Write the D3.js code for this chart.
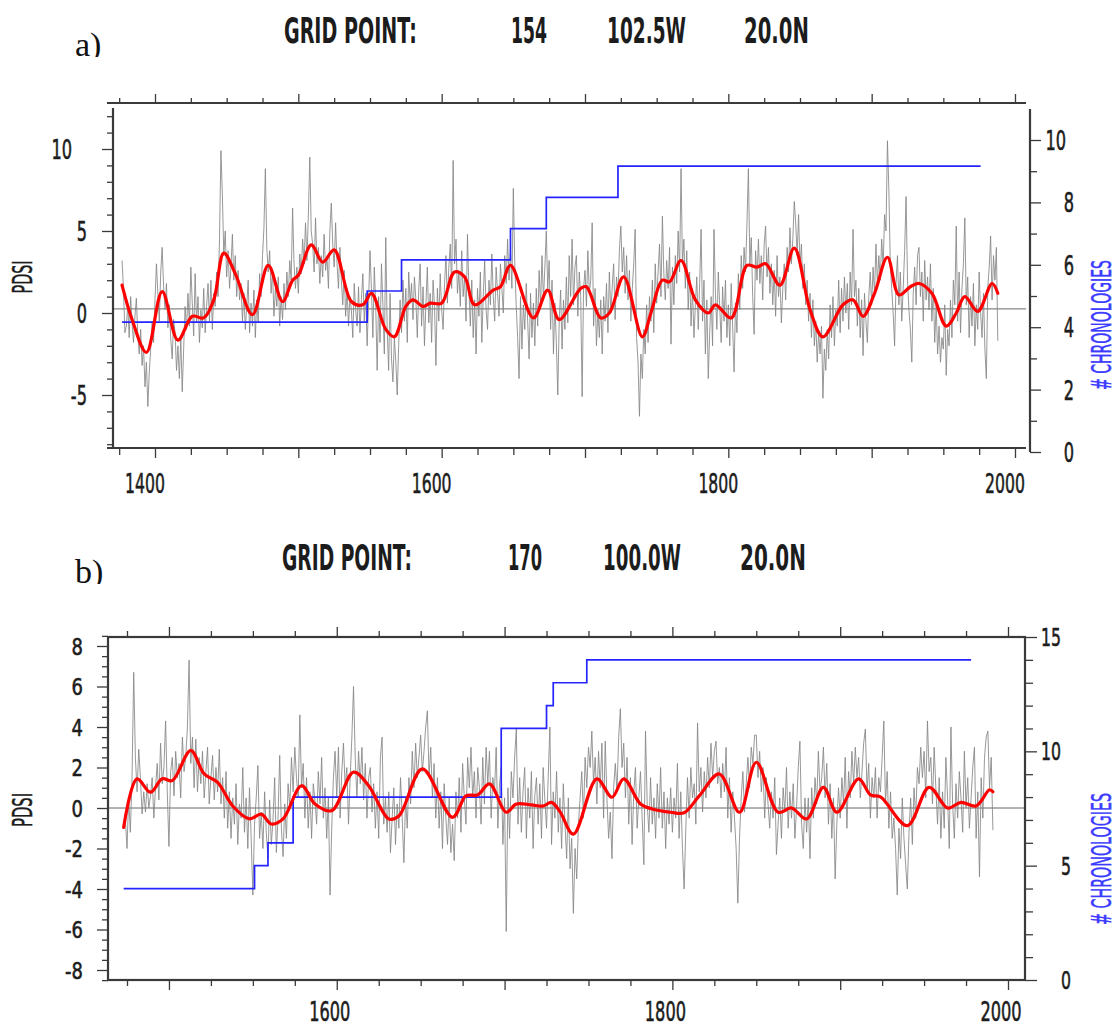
<!DOCTYPE html>
<html>
<head>
<meta charset="utf-8">
<script src="https://cdn.jsdelivr.net/npm/d3@7.9.0/dist/d3.min.js"></script>
<style>
  body { margin: 0; background: #fff; }
  svg { display: block; font-family: "DejaVu Sans", sans-serif; }
</style>
</head>
<body>
<svg id="chart" width="1118" height="1028"></svg>
<script>
// ---- panel a : grid point 154, 102.5W 20.0N ----
const firstYearA = 1377;
const pdsiA = [
  3.2, 1.5, -1.2,
  -0.8, 0.5, -1.5, 1.0, -0.6, -1.8, -0.2, 0.9, -1.4, -2.5,
  -1.0, -3.2, -2.0, -4.5, -3.0, -5.7, -3.6, -2.2, -0.5, -1.8,
  0.8, 3.0, 1.2, -0.5, 2.5, 4.0, 1.6, 0.2, 1.8, -0.9,
  0.5, -1.6, -2.8, -0.4, -1.2, -3.5, -2.0, -4.0, -1.5, -4.8,
  -2.2, 0.4, -1.0, 1.2, -0.8, 2.8, 0.6, -1.4, 2.4, -0.6,
  1.0, -1.8, 0.2, -0.9, 1.5, -1.2, 0.4, 1.8, -0.5, 2.0,
  -1.0, 1.2, 0.4, 2.5, 1.0, 4.5, 9.9, 7.2, 3.5, 5.0,
  2.2, 3.8, 1.5, 2.8, 4.8, 2.0, 3.5, 1.0, 2.6, 0.8,
  1.8, -0.5, 1.2, -1.0, 0.4, 2.0, -1.2, 0.6, -0.8, 1.4,
  -1.5, 0.8, -0.6, 2.4, 1.0, 3.5, 5.2, 8.8, 4.0, 2.5,
  3.8, 1.2, 2.6, -0.2, 1.5, 0.4, 2.2, -0.8, 1.0, -0.4,
  1.8, 0.2, 2.5, 1.0, 3.2, 2.0, 6.4, 3.0, 1.5, 2.8,
  1.2, 3.6, 2.4, 4.5, 3.0, 5.5, 3.2, 6.0, 9.5, 5.0,
  4.2, 2.5, 5.8, 3.0, 4.0, 1.8, 3.5, 2.2, 4.8, 2.6,
  3.4, 1.5, 5.0, 6.7, 4.2, 2.8, 5.5, 3.0, 1.5, 4.0,
  2.0, 0.5, 2.6, -0.2, 1.5, -0.8, 1.0, 0.2, -1.5, 1.8,
  0.2, -0.8, 1.6, -1.2, 0.8, 2.4, -0.5, 1.2, -2.0, 0.6,
  3.8, 1.5, -1.5, 2.8, 0.4, -3.5, 1.0, -1.8, 3.0, 0.5,
  -2.5, 4.6, -1.0, -3.5, 1.2, -2.8, -4.2, -1.5, -3.0, -5.0,
  -2.0, 0.8, -1.2, 2.0, -0.5, 1.5, -1.8, 2.5, 0.6, 1.8,
  -0.4, 2.2, 0.8, -1.5, 1.4, 3.0, -0.8, 1.6, -2.0, 0.5,
  2.8, -0.6, 1.2, -1.8, 2.0, 0.4, -3.2, 1.5, -0.5, 2.4,
  0.2, -1.0, 1.8, 3.5, 0.6, 2.8, 4.2, 1.5, 9.3, 3.0,
  4.5, 1.2, 2.5, 0.4, 3.8, 1.0, 2.2, -0.5, 4.8, 1.5,
  -0.8, 2.0, -1.5, 0.8, -2.5, 1.5, -0.2, 2.5, -1.8, 1.0,
  3.2, 0.2, -1.0, 2.0, 0.5, 3.6, 1.0, -0.5, 2.8, 1.2,
  -0.2, 3.0, 1.5, 0.0, 3.5, 1.8, 4.5, 2.0, 3.8, 1.5,
  7.6, 3.0, 0.5, -1.5, -4.0, 1.0, -2.2, 0.5, -1.0, 1.8,
  -0.5, -2.8, 1.2, -1.5, 0.6, -2.0, 1.5, -0.8, 2.6, 0.4,
  3.5, 0.8, 2.8, 5.0, 1.5, 3.2, -1.0, 2.0, -2.5, 0.6,
  -1.8, -5.0, -0.5, 1.4, -2.2, 0.8, -1.0, 2.2, -0.6, 3.5,
  1.0, 4.5, 0.5, 2.8, 3.5, -0.2, 2.5, 1.0, -5.1, 1.5,
  2.6, 0.4, 3.8, 1.2, 2.0, 5.5, -0.8, 1.5, -2.0, 0.2,
  -1.5, 0.8, -2.5, 1.0, -0.5, 1.8, -1.2, 2.5, 0.0, 1.6,
  3.0, -0.4, 2.2, 1.0, 3.8, 5.3, 2.5, 4.0, 1.2, 3.5,
  0.8, 2.6, -0.5, 1.5, 3.0, 5.1, -1.5, -3.0, -6.3, -2.5,
  -4.0, -1.0, -2.5, 0.5, -1.8, 1.0, -0.5, 2.0, -1.2, 3.0,
  0.6, 2.5, 4.2, 1.0, 5.9, 2.4, 0.8, 3.2, 1.5, 4.0,
  -1.9, 2.8, 0.5, 3.5, 1.8, 5.0, 2.5, 8.8, 3.0, 4.5,
  1.5, 3.8, 0.2, 2.5, -0.8, 1.5, -1.5, 0.5, 2.2, -1.0,
  1.8, 5.1, -0.5, 2.0, -2.5, 0.8, -4.0, -1.2, 1.0, -2.0,
  5.1, 1.2, -1.0, 2.5, 0.4, -1.8, 1.6, -0.5, 2.0, -1.5,
  0.5, -2.0, 1.8, -0.8, -3.6, 0.6, -1.2, 2.4, 0.2, 3.5,
  1.5, 4.0, 2.5, 5.5, 8.8, 3.0, 4.6, 1.0, -1.3, 3.8,
  2.0, 4.5, 1.8, 3.5, 0.8, 4.2, 5.3, 2.2, 4.0, 1.2,
  3.0, 0.5, 2.6, -0.2, 3.5, 1.0, 2.2, -0.6, 1.5, 3.0,
  0.8, 4.0, 2.5, 5.2, 3.0, 4.5, 6.8, 5.5, 3.5, 6.0,
  2.8, 4.2, 1.5, 3.0, 0.5, 2.0, -0.5, 1.2, -1.5, 0.8,
  -2.0, -0.5, -3.0, -1.2, -2.5, -0.8, -5.2, -2.2, -3.5, -1.0,
  -2.8, 0.5, -1.5, 1.0, -2.0, 0.2, -0.8, 2.0, -1.2, 1.5,
  -0.5, 2.2, 0.0, 1.8, -1.0, 2.5, 0.5, 5.1, 1.0, 2.0,
  -0.8, 1.5, -1.5, 0.8, -2.6, 1.2, -0.5, -1.8, 1.0, 2.5,
  0.5, 2.8, 1.2, 4.2, 1.8, 3.5, 2.0, 4.5, 2.8, 6.0,
  5.0, 10.5, 7.5, 3.0, 1.5, 0.0, -2.0, 1.8, 3.5, 0.5,
  2.5, -0.5, 1.5, 3.8, 7.1, 2.0, 0.2, -1.0, -3.0, 1.2,
  2.8, 0.5, 3.5, 4.0, 1.0, 2.5, -0.5, 3.2, 0.8, 2.2,
  0.2, 3.0, -0.5, 1.5, -1.8, 0.5, -2.5, -0.8, -3.0, -1.5,
  -2.2, 0.5, -3.8, -1.0, -2.0, 0.8, -1.5, 2.0, 0.5, 5.3,
  -0.5, 2.5, -1.2, 1.5, 3.0, 5.8, 0.5, 2.2, -1.5, 1.0,
  -0.8, 1.8, -2.0, 0.5, -1.0, 2.5, 0.0, -1.5, 1.2, -2.2,
  -4.0, 1.5, 2.8, 4.7, 0.8, 3.5, 2.0, 4.0, -1.7
];
const smoothYearsA = [1377, 1384, 1394, 1405, 1416, 1426, 1434, 1441, 1448, 1456, 1468, 1479, 1489, 1496,
  1500, 1509, 1517, 1525, 1537, 1545, 1551, 1561, 1567, 1575, 1580, 1587, 1592, 1600, 1609, 1616, 1623,
  1636, 1641, 1648, 1664, 1674, 1682, 1697, 1701, 1711, 1717, 1727, 1740, 1746, 1754, 1759, 1767, 1777,
  1786, 1791, 1802, 1813, 1820, 1826, 1836, 1846, 1857, 1866, 1880, 1887, 1894, 1902, 1911, 1919, 1927,
  1933, 1942, 1952, 1959, 1965, 1974, 1984, 1988];
const smoothA = [1.7, -0.4, -2.4, 1.3, -1.65, -0.2, -0.3, 0.8, 3.65, 2.4, -0.1, 2.9, 0.7, 2.0,
  2.3, 4.15, 3.1, 3.85, 0.7, 0.5, 1.2, -1.0, -1.45, 0.4, 0.8, 0.4, 0.6, 0.6, 2.5, 2.2, 0.5,
  1.4, 1.6, 2.9, -0.3, 1.4, -0.4, 1.5, 1.6, -0.3, 0.0, 2.2, -1.45, 0.0, 2.0, 1.9, 3.2, 0.8,
  0.0, 0.5, -0.3, 2.9, 2.8, 3.0, 1.7, 3.95, 0.2, -1.45, 0.5, 0.8, -0.2, 1.2, 3.4, 1.1, 1.6,
  1.8, 1.2, -0.8, 0.0, 1.0, 0.1, 1.8, 1.2];
const stepYearsA = [1377, 1548, 1572, 1648, 1673, 1723, 1976];
const chronA = [4, 5, 6, 7, 8, 9, 9];

// ---- panel b : grid point 170, 100.0W 20.0N ----
const firstYearB = 1473;
const pdsiB = [
  -1.0, -0.5, -2.0, 0.5, -1.2, 1.5, 6.7,
  2.5, 0.8, 2.9, 1.5, -0.3, 0.8, -0.2, 1.2, 0.0, 0.6,
  1.5, -0.5, 1.0, 2.2, 0.4, 3.2, 1.2, 2.0, 4.3, 0.8,
  -1.9, 1.8, 2.5, 0.6, 2.8, 1.5, 2.2, 0.5, 3.5, 1.8,
  2.5, 4.0, 7.3, 2.2, 3.5, 1.0, 3.4, 0.8, 2.5, 1.2,
  2.8, 0.5, 1.8, 3.0, 0.2, 1.5, 2.6, 0.4, 2.0, 0.8,
  2.9, 0.2, 1.5, -0.5, 1.8, -1.0, 0.8, -1.5, 0.5, -0.8,
  1.2, -1.8, 0.2, -0.5, 2.0, -1.2, 0.5, -2.0, 1.0, -1.5,
  -4.3, -0.8, 0.5, 2.1, -1.5, -0.2, -2.0, 0.8, -1.2, -2.5,
  0.4, -1.8, -0.6, 1.5, -2.2, -0.5, 2.6, -1.0, -2.4, 0.2,
  -1.5, 1.2, 0.0, 2.5, 0.8, 3.0, 1.5, 0.5, 4.6, 1.0,
  2.2, -0.5, 1.5, -1.0, 0.8, -1.5, 1.2, 0.4, -0.8, 1.8,
  0.2, 2.5, -0.5, 1.0, -1.5, 0.5, -4.3, -1.0, 1.5, 2.8,
  0.5, 3.0, -0.5, 1.8, 3.2, 1.0, 2.0, -0.8, 1.5, 3.5,
  6.0, 2.5, 0.5, 2.8, 1.2, 3.0, 0.4, 2.2, -0.5, 1.5,
  2.0, -0.2, 1.2, -1.0, 0.8, -1.5, 2.5, 3.5, -0.8, 0.5,
  -1.2, 0.8, -2.2, -0.5, 1.0, -1.8, 0.2, -1.0, 1.5, -0.5,
  -2.7, 0.5, -1.0, 1.5, 0.2, 2.8, 1.0, 3.2, 1.5, 2.5,
  3.6, 1.8, 2.8, 4.0, 4.8, 1.5, 3.0, 0.5, 2.2, -0.5,
  1.5, -1.0, 0.8, -2.0, 1.2, -0.5, -1.8, 0.5, -2.2, -0.8,
  -2.6, 0.8, -0.5, 1.5, -1.2, 2.2, 0.5, -0.8, 2.5, 1.0,
  3.0, 0.5, 1.8, -0.5, 2.0, 1.0, -0.8, 2.5, 0.2, 3.0,
  1.2, 2.8, -0.5, 1.5, 0.8, 3.0, -1.0, 1.2, 2.0, -1.8,
  0.5, -6.1, 1.0, -1.5, 1.8, 0.5, 2.5, 3.9, -0.8, 1.5,
  -1.2, 0.8, 2.0, -1.5, 1.0, -0.5, 1.8, -2.0, 0.6, 1.5,
  -0.8, 1.2, -1.5, 2.0, 0.4, -1.0, 1.5, 4.0, -1.8, 0.8,
  -0.5, 1.8, -1.2, 0.5, -2.0, 1.2, -0.8, -2.5, 0.5, -3.0,
  -1.5, -5.2, -2.0, -3.5, -0.8, 0.5, 1.8, -0.5, 2.5, 1.0,
  3.0, 2.0, 3.8, 1.2, 2.5, 0.2, 2.8, 1.0, 3.2, -0.5,
  3.3, 0.5, -1.5, -0.2, -2.5, 1.0, 2.2, 0.8, 3.5, 4.9,
  2.0, 3.2, 0.5, 2.5, -0.8, 1.5, -1.8, 0.8, 2.0, -1.0,
  0.5, 1.8, -0.5, -2.8, 3.8, 0.2, -1.2, 1.5, -0.8, 0.5,
  -1.5, 1.2, -0.5, 2.0, -1.0, 0.8, -2.0, 0.5, -0.8, 1.0,
  -1.2, 0.5, -0.5, 2.2, -1.5, 0.8, -2.0, -4.0, -1.0, 1.5,
  -0.5, 2.0, 0.5, 1.2, -0.8, 4.2, 0.8, 2.0, -0.2, 1.8,
  0.5, 2.5, 1.0, 3.2, 1.5, 2.8, 3.3, 1.2, 2.0, 0.5,
  2.2, 0.8, 3.0, -0.5, 1.5, -1.2, 0.8, -0.5, -2.0, -4.7,
  -1.5, 0.5, 1.8, -0.2, 1.2, 2.5, 1.0, 3.0, 2.2, 3.6,
  3.6, 1.5, 2.8, 0.8, 2.0, -0.5, 1.5, 0.2, -1.0, 0.8,
  -0.5, 1.5, -2.3, -0.8, 0.5, -1.5, 1.0, -0.2, 2.0, -1.0,
  0.8, -0.5, 1.2, -1.5, 0.0, 2.0, 3.3, -0.8, -2.0, 0.5,
  -1.2, 0.5, -2.5, 1.0, -0.5, 1.5, 0.2, 2.8, 0.8, 1.5,
  3.0, 0.5, 2.2, -0.8, 1.2, -1.5, 0.5, -3.5, -0.8, 1.0,
  -0.5, 1.5, 0.2, 2.5, -1.0, 1.8, 0.5, 2.8, 1.2, 3.0,
  1.5, 2.5, 0.5, 1.8, 3.2, 3.9, 0.8, 2.2, -0.5, 1.5,
  0.5, 2.0, -0.5, 1.5, 0.8, 2.5, 4.3, 0.2, 1.8, -1.0,
  0.8, -1.5, -0.5, -2.0, -4.3, -1.0, -2.5, 0.5, -1.5, -2.8,
  -4.0, -1.2, 0.5, -1.8, 1.0, -0.5, 2.0, 1.2, 3.0, 1.5,
  2.8, 0.5, 4.3, 1.8, 2.5, 0.2, 3.0, 1.0, -0.8, 1.5,
  -1.5, 0.8, -1.0, 2.5, 0.5, -2.0, 4.0, 0.2, -1.5, 1.2,
  -0.5, 1.8, 0.5, -1.2, 2.8, 0.0, 1.5, -1.0, 0.5, 2.0,
  3.0, -1.5, 0.8, -3.4, 1.5, -0.5, 2.5, 3.5, 3.8, 1.0,
  2.5, -1.1
];
const smoothYearsB = [1473, 1481, 1489, 1496, 1502, 1513, 1521, 1529, 1538, 1548, 1555, 1561, 1568, 1579,
  1587, 1597, 1610, 1619, 1631, 1637, 1651, 1669, 1677, 1684, 1691, 1701, 1707, 1716, 1723, 1728, 1733,
  1741, 1755, 1764, 1771, 1781, 1788, 1799, 1807, 1816, 1828, 1840, 1850, 1863, 1871, 1880, 1890, 1898,
  1911, 1918, 1924, 1940, 1953, 1964, 1972, 1981, 1989, 1991];
const smoothB = [-0.96, 1.44, 0.78, 1.44, 1.35, 2.84, 1.68, 1.27, 0.1, -0.54, -0.3, -0.79, -0.54, 1.1,
  0.2, -0.13, 1.77, 1.1, -0.54, -0.4, 1.93, -0.46, 0.6, 0.65, 1.19, -0.21, 0.2, 0.15, 0.1, 0.28, -0.18,
  -1.29, 1.44, 0.53, 1.44, 0.2, -0.05, -0.21, -0.23, 0.6, 1.68, -0.21, 2.26, -0.21, 0.0, -0.54, 1.02, -0.21,
  1.44, 0.65, 0.55, -0.87, 1.02, 0.0, 0.28, 0.1, 0.9, 0.8];
const stepYearsB = [1473, 1551, 1559, 1574, 1698, 1725, 1729, 1749, 1978];
const chronB = [4, 5, 6, 8, 11, 12, 13, 14, 14];

// axis labels
const yearLabelsA = [1400, 1600, 1800, 2000];
const yearLabelsB = [1600, 1800, 2000];
const pdsiLabelsA = [-5, 0, 5, 10];
const chronLabelsA = [0, 2, 4, 6, 8, 10];
const pdsiLabelsB = [-8, -6, -4, -2, 0, 2, 4, 6, 8];
const chronLabelsB = [0, 5, 10, 15];
const titleA = ['GRID POINT:', '154', '102.5W', '20.0N'];
const titleB = ['GRID POINT:', '170', '100.0W', '20.0N'];

const svg = d3.select('#chart');
const ink = '#1c1c1c';
const axisInk = '#3a3a3a';

function condText(g, x, y, str, size, sx, anchor) {
  return g.append('text')
    .attr('transform', `translate(${x},${y}) scale(${sx},1)`)
    .attr('font-size', size)
    .attr('text-anchor', anchor)
    .attr('fill', ink)
    .attr('stroke', ink).attr('stroke-width', 0.6)
    .text(str);
}

// squeeze a text horizontally until it is `len` px wide
function fitText(g, x, y, str, size, len, rotate, color, bold) {
  const t = g.append('text')
    .attr('font-size', size)
    .attr('font-weight', bold ? 'bold' : 'normal')
    .attr('text-anchor', rotate ? 'middle' : 'start')
    .attr('fill', color || ink)
    .text(str);
  if (!bold) t.attr('stroke', color || ink).attr('stroke-width', 0.5);
  const w = t.node().getComputedTextLength();
  const k = len / w;
  t.attr('transform', rotate
    ? `translate(${x},${y}) rotate(-90) scale(${k},1)`
    : `translate(${x},${y}) scale(${k},1)`);
  return t;
}

function panelTag(g, x, y, str) {
  const id = 'clip' + str[0];
  svg.append('defs').append('clipPath').attr('id', id)
    .append('rect').attr('x', x - 5).attr('y', y - 40).attr('width', 50).attr('height', 41);
  g.append('text').attr('x', x).attr('y', y).attr('clip-path', `url(#${id})`)
    .attr('font-family', '"Liberation Serif", "Times New Roman", serif')
    .attr('font-size', 34).attr('fill', '#111').text(str);
}

function tidy(g, longTest, longSize) {
  g.select('.domain').remove();
  g.selectAll('.tick text').remove();
  g.selectAll('.tick line').attr('stroke', axisInk).attr('stroke-width', 1.3);
  if (longTest) {
    g.selectAll('.tick line').filter(longTest).each(function () {
      const l = d3.select(this);
      if (l.attr('x2') !== null && +l.attr('x2') !== 0) l.attr('x2', longSize);
      else l.attr('y2', longSize);
    });
  }
}

function frameLine(g, x1, y1, x2, y2) {
  return g.append('line')
    .attr('x1', x1).attr('y1', y1).attr('x2', x2).attr('y2', y2)
    .attr('stroke', axisInk).attr('stroke-width', 2.2);
}

function drawSeries(g, x, y, yR, first, pdsi, sYears, sVals, cYears, cVals) {
  const gray = d3.line().x((d, i) => x(first + i)).y(d => y(d));
  g.append('path').attr('d', gray(pdsi))
    .attr('fill', 'none').attr('stroke', '#858585').attr('stroke-width', 0.85);

  const step = d3.line().curve(d3.curveStepAfter).x(d => x(d[0])).y(d => yR(d[1]));
  g.append('path').attr('d', step(d3.zip(cYears, cVals)))
    .attr('fill', 'none').attr('stroke', '#2424ff').attr('stroke-width', 1.7);

  const smooth = d3.line().curve(d3.curveCatmullRom.alpha(0.5)).x(d => x(d[0])).y(d => y(d[1]));
  g.append('path').attr('d', smooth(d3.zip(sYears, sVals)))
    .attr('fill', 'none').attr('stroke', '#ff0000').attr('stroke-width', 3.2)
    .attr('stroke-linejoin', 'round').attr('stroke-linecap', 'round');
}

// ================= panel a =================
{
  const g = svg.append('g');
  const x = d3.scaleLinear().domain([1400, 2000]).range([155, 1015]);
  const y = d3.scaleLinear().domain([0, 10]).range([313, 149]);
  const yR = d3.scaleLinear().domain([0, 10]).range([447, 135]);
  const L = { xl: 107, xr: 1026, top: 103, bottom: 448, leftX: 113, leftTop: 108, rightX: 1030, rTop: 109, rBottom: 452 };

  panelTag(g, 75, 56, 'a)');
  const tx = [284, 511, 607, 744], tl = [133, 36, 79, 65];
  titleA.forEach((t, i) => fitText(g, tx[i], 43, t, 36, tl[i], false, ink, true));

  // reference line
  frameLine(g, L.leftX, y(0.25), L.xr, y(0.25)).attr('stroke', '#666').attr('stroke-width', 1);

  drawSeries(g, x, y, yR, firstYearA, pdsiA, smoothYearsA, smoothA, stepYearsA, chronA);

  frameLine(g, L.xl, L.top, L.xr, L.top);
  frameLine(g, L.xl, L.bottom, L.xr, L.bottom);
  frameLine(g, L.leftX, L.leftTop, L.leftX, L.bottom);
  frameLine(g, L.rightX, L.rTop, L.rightX, L.rBottom);

  const yearTicks = d3.range(1375, 2001, 25);
  g.append('g').attr('transform', `translate(0,${L.top})`)
    .call(d3.axisTop(x).tickValues(yearTicks).tickSize(5).tickFormat(''))
    .call(a => tidy(a, d => d % 100 === 0, -9));
  g.append('g').attr('transform', `translate(0,${L.bottom})`)
    .call(d3.axisBottom(x).tickValues(yearTicks).tickSize(7).tickFormat(''))
    .call(a => tidy(a, d => d % 100 === 0, 10));
  g.append('g').attr('transform', `translate(${L.leftX},0)`)
    .call(d3.axisLeft(y).tickValues(d3.range(-8, 13)).tickSize(6).tickFormat(''))
    .call(a => tidy(a, d => d % 5 === 0, -11));
  g.append('g').attr('transform', `translate(${L.rightX},5)`)
    .call(d3.axisRight(yR).tickValues(d3.range(0, 11)).tickSize(7).tickFormat(''))
    .call(a => tidy(a, d => d % 2 === 0, 11));

  yearLabelsA.forEach(v => condText(g, x(v) - 10, 493, v, 27, 0.58, 'middle'));
  pdsiLabelsA.forEach(v => condText(g, 87 - (v >= 10 ? 15 : 0), y(v) + 10, v, 27, 0.6, 'end'));
  chronLabelsA.forEach(v => condText(g, 1074 - (v >= 10 ? 8 : 0), yR(v) + 15, v, 27, 0.6, 'end'));

  fitText(g, 32, 277, 'PDSI', 26, 33, true, ink);
  fitText(g, 1111, 325, '# CHRONOLOGIES', 26, 130, true, '#3b3bff');
}

// ================= panel b =================
{
  const g = svg.append('g');
  const x = d3.scaleLinear().domain([1475, 2000]).range([127, 1008]);
  const y = d3.scaleLinear().domain([-8, 8]).range([970, 646]);
  const yR = d3.scaleLinear().domain([0, 15]).range([980, 637]);
  const L = { left: 108, right: 1025, top: 637, bottom: 980 };

  panelTag(g, 75, 583, 'b)');
  const tx = [282, 508, 603, 740], tl = [130, 34, 78, 66];
  titleB.forEach((t, i) => fitText(g, tx[i], 570, t, 35, tl[i], false, ink, true));

  frameLine(g, L.left, y(0), L.right, y(0)).attr('stroke', '#666').attr('stroke-width', 1);

  drawSeries(g, x, y, yR, firstYearB, pdsiB, smoothYearsB, smoothB, stepYearsB, chronB);

  g.append('rect').attr('x', L.left).attr('y', L.top)
    .attr('width', L.right - L.left).attr('height', L.bottom - L.top)
    .attr('fill', 'none').attr('stroke', axisInk).attr('stroke-width', 2.2);

  const yearTicks = d3.range(1475, 2001, 25);
  g.append('g').attr('transform', `translate(0,${L.top})`)
    .call(d3.axisTop(x).tickValues(yearTicks).tickSize(6).tickFormat(''))
    .call(a => tidy(a, d => d % 100 === 0, -10));
  g.append('g').attr('transform', `translate(0,${L.bottom})`)
    .call(d3.axisBottom(x).tickValues(yearTicks).tickSize(6).tickFormat(''))
    .call(a => tidy(a, d => d % 100 === 0, 10));
  g.append('g').attr('transform', `translate(${L.left},0)`)
    .call(d3.axisLeft(y).tickValues(d3.range(-8.5, 8.51, 0.5)).tickSize(6).tickFormat(''))
    .call(a => tidy(a, d => d % 2 === 0, -11));
  g.append('g').attr('transform', `translate(${L.right},0)`)
    .call(d3.axisRight(yR).tickValues(d3.range(0, 16)).tickSize(8).tickFormat(''))
    .call(a => tidy(a, d => d % 5 === 0, 12));

  yearLabelsB.forEach(v => condText(g, x(v) - 7, 1021, v, 27, 0.6, 'middle'));
  pdsiLabelsB.forEach(v => condText(g, 83, y(v) + 8.5, v, 23, 0.78, 'end'));
  chronLabelsB.forEach(v => condText(g, 1071 - (v >= 10 ? 10 : 0), yR(v) + 9, v, 25, 0.63, 'end'));

  fitText(g, 32, 810, 'PDSI', 26, 34, true, ink);
  fitText(g, 1111, 859, '# CHRONOLOGIES', 26, 132, true, '#3b3bff');
}
</script>
</body>
</html>
